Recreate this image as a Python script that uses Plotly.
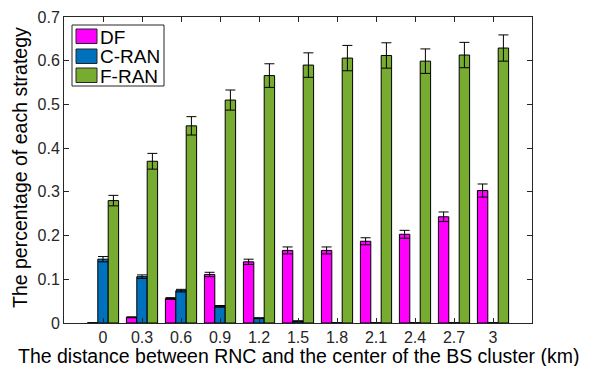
import plotly.graph_objects as go

distances = [0, 0.3, 0.6, 0.9, 1.2, 1.5, 1.8, 2.1, 2.4, 2.7, 3]
tick_labels = ["0", "0.3", "0.6", "0.9", "1.2", "1.5", "1.8", "2.1", "2.4", "2.7", "3"]
y_ticks = [0, 0.1, 0.2, 0.3, 0.4, 0.5, 0.6, 0.7]
y_tick_labels = ["0", "0.1", "0.2", "0.3", "0.4", "0.5", "0.6", "0.7"]

df_vals = [0.0, 0.013, 0.056, 0.111, 0.140, 0.166, 0.166, 0.187, 0.203, 0.243, 0.303]
df_err = [0.0, 0.001, 0.002, 0.005, 0.006, 0.008, 0.008, 0.008, 0.009, 0.011, 0.015]

cran_vals = [0.146, 0.106, 0.074, 0.038, 0.011, 0.004, 0.0, 0.0, 0.0, 0.0, 0.0]
cran_err = [0.006, 0.004, 0.003, 0.002, 0.001, 0.001, 0.0, 0.0, 0.0, 0.0, 0.0]

fran_vals = [0.280, 0.370, 0.451, 0.510, 0.566, 0.590, 0.606, 0.612, 0.599, 0.613, 0.629]
fran_err = [0.012, 0.018, 0.021, 0.023, 0.027, 0.028, 0.029, 0.029, 0.028, 0.029, 0.030]

series = [
    ("DF", df_vals, df_err, "#FF00FF"),
    ("C-RAN", cran_vals, cran_err, "#0072BD"),
    ("F-RAN", fran_vals, fran_err, "#77AC30"),
]

W, H = 599, 366
L, R, T, B = 64, 532, 17, 323
pw, ph = R - L, B - T


def px(xp):
    return (xp - L) / pw


def py(yp):
    return (B - yp) / ph


fig = go.Figure()
for name, vals, err, color in series:
    fig.add_trace(go.Bar(
        x=distances, y=vals, name=name, showlegend=False,
        marker=dict(color=color, line=dict(color="black", width=1)),
        error_y=dict(type="data", array=err, visible=True, color="black",
                     thickness=1, width=5),
    ))

font_family = "Liberation Sans, Arial, sans-serif"

shapes = []
annotations = []
# legend box
shapes.append(dict(type="rect", xref="paper", yref="paper",
                   x0=px(72), x1=px(164), y0=py(86), y1=py(25),
                   line=dict(color="#262626", width=1), fillcolor="white", layer="above"))
sw_tops = [29, 49, 68]
for (name, _, _, color), top in zip(series, sw_tops):
    shapes.append(dict(type="rect", xref="paper", yref="paper",
                       x0=px(76), x1=px(97), y0=py(top + 14.5), y1=py(top),
                       line=dict(color="#262626", width=1), fillcolor=color, layer="above"))
    annotations.append(dict(xref="paper", yref="paper", x=px(99), y=py(top + 7.5),
                            xanchor="left", yanchor="middle", text=name, showarrow=False,
                            height=18, borderpad=0,
                            font=dict(size=19, color="black", family=font_family)))

annotations.append(dict(xref="paper", yref="paper", x=px(298), y=py(356),
                        xanchor="center", yanchor="middle", showarrow=False,
                        height=20, borderpad=0,
                        text="The distance between RNC and the center of the BS cluster (km)",
                        font=dict(size=19.5, color="black", family=font_family)))
annotations.append(dict(xref="paper", yref="paper", x=px(20), y=py(168),
                        xanchor="center", yanchor="middle", showarrow=False, textangle=-90,
                        text="The percentage of each strategy",
                        font=dict(size=19.5, color="black", family=font_family)))

fig.update_layout(
    width=W, height=H,
    margin=dict(l=L, r=W - R, t=T, b=H - B),
    paper_bgcolor="white", plot_bgcolor="white",
    barmode="group", bargap=0.2, bargroupgap=0,
    font=dict(family=font_family, size=16, color="#262626"),
    showlegend=False,
    shapes=shapes, annotations=annotations,
    xaxis=dict(
        range=[-0.3, 3.3], automargin=False,
        tickmode="array", tickvals=distances, ticktext=tick_labels,
        ticks="inside", ticklen=5, tickcolor="#262626",
        showline=True, linecolor="#262626", linewidth=1, mirror="ticks",
        showgrid=False, zeroline=False,
        tickfont=dict(size=16, color="#262626"),
    ),
    yaxis=dict(
        range=[0, 0.7], automargin=False,
        tickmode="array", tickvals=y_ticks, ticktext=y_tick_labels,
        ticks="inside", ticklen=5, tickcolor="#262626",
        showline=True, linecolor="#262626", linewidth=1, mirror="ticks",
        showgrid=False, zeroline=False,
        tickfont=dict(size=16, color="#262626"),
    ),
)

fig.write_html("out.html", config={"displayModeBar": False},
               post_script="document.body.style.margin='0';")
